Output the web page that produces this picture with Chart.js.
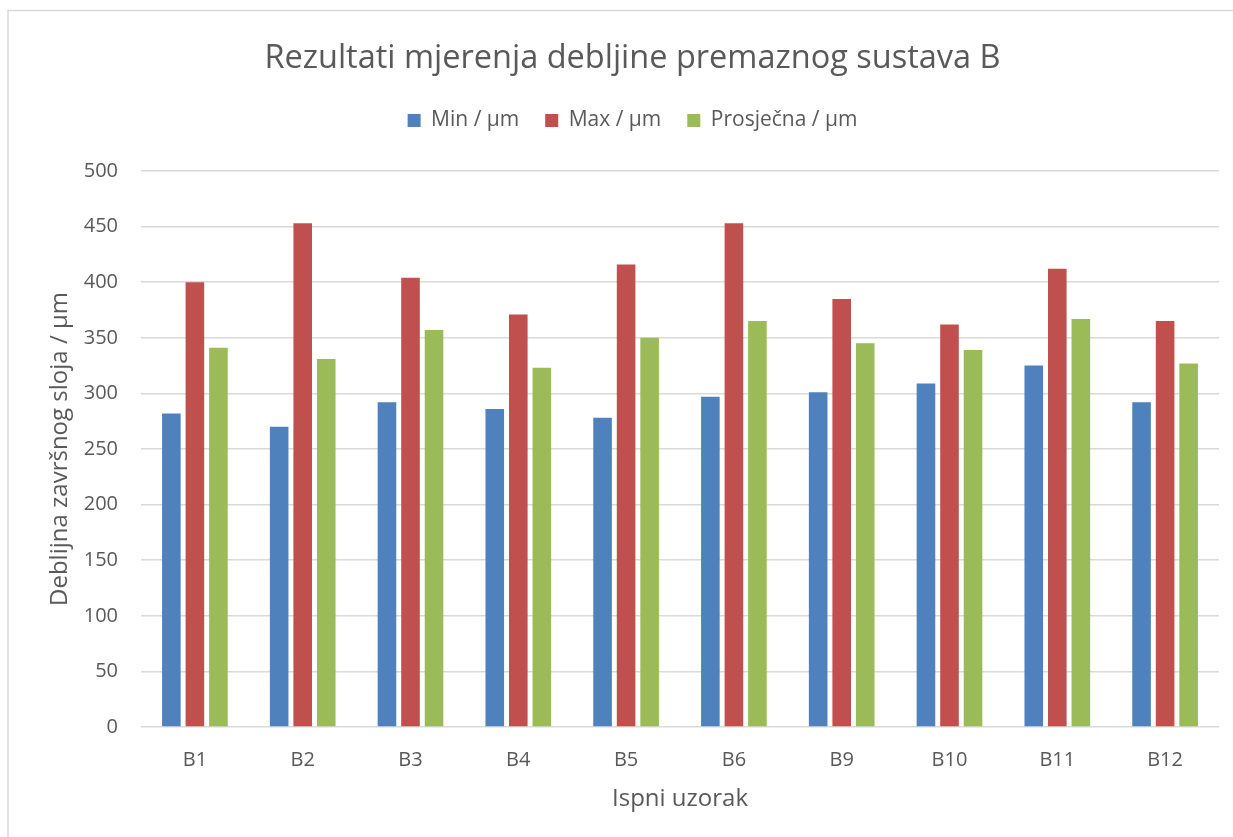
<!DOCTYPE html>
<html>
<head>
<meta charset="utf-8">
<script src="https://cdn.jsdelivr.net/npm/chart.js@4.4.1/dist/chart.umd.min.js"></script>
<style>
    html, body { margin: 0; padding: 0; background: #fff; overflow: hidden; }
    #wrap { position: absolute; left: 0; top: 0; width: 1256px; height: 837px; }
</style>
</head>
<body>
<div id="wrap"><canvas id="thicknessChart"></canvas></div>
<script>
// podaci - debljina premaznog sustava B
const uzorci = ['B1', 'B2', 'B3', 'B4', 'B5', 'B6', 'B9', 'B10', 'B11', 'B12'];
const minVrijednosti = [282, 270, 292, 286, 278, 297, 301, 309, 325, 292];
const maxVrijednosti = [400, 453, 404, 371, 416, 453, 385, 362, 412, 365];
const prosjecneVrijednosti = [341, 331, 357, 323, 350, 365, 345, 339, 367, 327];
const yTicks = [0, 50, 100, 150, 200, 250, 300, 350, 400, 450, 500];

const textColor = '#595959';
const fontFamily = '"Open Sans", "Noto Sans", sans-serif';

// okvir grafikona (kao u Excelu)
const frameBorder = {
    id: 'frameBorder',
    beforeDraw(chart) {
        const ctx = chart.ctx;
        ctx.save();
        ctx.strokeStyle = '#D9D9D9';
        ctx.lineWidth = 1.5;
        ctx.beginPath();
        ctx.moveTo(8, chart.height + 5);
        ctx.lineTo(8, 10.5);
        ctx.lineTo(chart.width + 5, 10.5);
        ctx.stroke();
        ctx.restore();
    }
};

// dodatni razmak ispod legende
const legendGap = {
    id: 'legendGap',
    beforeInit(chart) {
        const fit = chart.legend.fit;
        chart.legend.fit = function () {
            fit.bind(chart.legend)();
            this.height += 30;
        };
    }
};

const ctx = document.getElementById('thicknessChart').getContext('2d');
new Chart(ctx, {
    type: 'bar',
    data: {
        labels: uzorci,
        datasets: [
            { label: 'Min / µm', data: minVrijednosti, backgroundColor: '#4F81BD' },
            { label: 'Max / µm', data: maxVrijednosti, backgroundColor: '#C0504D' },
            { label: 'Prosječna / µm', data: prosjecneVrijednosti, backgroundColor: '#9BBB59' }
        ]
    },
    options: {
        responsive: true,
        maintainAspectRatio: false,
        animation: false,
        layout: { padding: { left: 46, right: 37, top: 0, bottom: 23 } },
        datasets: {
            bar: { categoryPercentage: 0.655, barPercentage: 0.79, borderWidth: 0 }
        },
        plugins: {
            title: {
                display: true,
                text: 'Rezultati mjerenja debljine premaznog sustava B',
                color: textColor,
                font: { family: fontFamily, size: 32.5, weight: 'normal' },
                padding: { top: 39, bottom: 6 }
            },
            legend: {
                position: 'top',
                labels: {
                    color: textColor,
                    font: { family: fontFamily, size: 21 },
                    boxWidth: 13,
                    boxHeight: 13,
                    padding: 26
                }
            },
            tooltip: { enabled: false }
        },
        scales: {
            x: {
                afterFit(scale) { scale.height = 87; },
                grid: { display: false, drawTicks: false },
                border: { display: false },
                ticks: { color: textColor, font: { family: fontFamily, size: 20 }, padding: 21 },
                title: {
                    display: true,
                    text: 'Ispni uzorak',
                    color: textColor,
                    font: { family: fontFamily, size: 24 },
                    padding: { top: 13, bottom: 0 }
                }
            },
            y: {
                min: 0,
                max: 500,
                afterBuildTicks(scale) {
                    scale.ticks = yTicks.map(v => ({ value: v }));
                },
                afterFit(scale) { scale.width = 95; },
                grid: { color: '#D9D9D9', lineWidth: 1.5, drawTicks: false },
                border: { display: false },
                ticks: { color: textColor, font: { family: fontFamily, size: 20 }, padding: 23 },
                title: {
                    display: true,
                    text: 'Deblijna završnog sloja / µm',
                    color: textColor,
                    font: { family: fontFamily, size: 24 },
                    padding: { top: 0, bottom: 8 }
                }
            }
        }
    },
    plugins: [frameBorder, legendGap]
});
</script>
</body>
</html>
